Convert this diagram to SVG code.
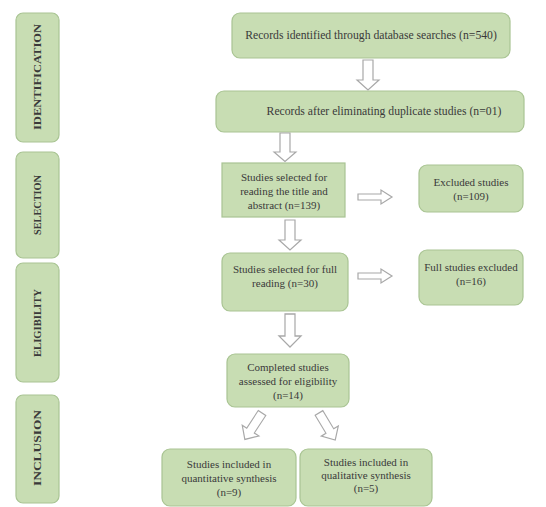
<svg xmlns="http://www.w3.org/2000/svg" xmlns:xlink="http://www.w3.org/1999/xlink" width="546" height="507" viewBox="0 0 546 507">
<style>
.box{fill:#c8ddb3;stroke:#a9c493;stroke-width:1.2}
.t{font-family:"Liberation Serif","Times New Roman",serif;font-size:11px;fill:#3a3a3a;text-anchor:middle}
.tl{font-size:11.7px}
.side{font-family:"Liberation Serif","Times New Roman",serif;font-size:11px;font-weight:bold;fill:#3a3a3a;text-anchor:middle}
.arr{fill:#ffffff;stroke:#a8a8a8;stroke-width:1.2;stroke-linejoin:miter}
</style>
<defs>
<path id="dArrow" d="M-5,0 H5 V20 H11 L0,30 L-11,20 H-5 Z"/>
<path id="rArrow" d="M0,-3 H23 V-7 L34,0 L23,7 V3 H0 Z"/>
</defs>
<rect width="546" height="507" fill="#ffffff"/>

<g id="stage-identification"><rect class="box" x="16" y="13" width="43" height="129" rx="7"/><text class="side" transform="translate(41,77) rotate(-90)" textLength="106" lengthAdjust="spacingAndGlyphs">IDENTIFICATION</text></g>
<g id="stage-selection"><rect class="box" x="16" y="152" width="43" height="106" rx="7"/><text class="side" transform="translate(41,205) rotate(-90)" textLength="60" lengthAdjust="spacingAndGlyphs">SELECTION</text></g>
<g id="stage-eligibility"><rect class="box" x="16" y="263" width="43" height="119" rx="7"/><text class="side" transform="translate(41,323) rotate(-90)" textLength="68" lengthAdjust="spacingAndGlyphs">ELIGIBILITY</text></g>
<g id="stage-inclusion"><rect class="box" x="16" y="395" width="43" height="108" rx="7"/><text class="side" transform="translate(41,448) rotate(-90)" textLength="76" lengthAdjust="spacingAndGlyphs">INCLUSION</text></g>

<g id="n1"><rect class="box" x="232" y="13" width="278" height="45" rx="8"/><text class="t tl" x="371" y="39">Records identified through database searches (n=540)</text></g>
<g id="n2"><rect class="box" x="216" y="91" width="308" height="41" rx="8"/><text class="t tl" x="384" y="115">Records after eliminating duplicate studies (n=01)</text></g>
<g id="n3"><rect class="box" x="222" y="163" width="123" height="54"/><text class="t" x="284" y="181">Studies selected for</text><text class="t" x="284" y="195">reading the title and</text><text class="t" x="284" y="209">abstract (n=139)</text></g>
<g id="n4"><rect class="box" x="419" y="165" width="104" height="47" rx="8"/><text class="t" x="471" y="186">Excluded studies</text><text class="t" x="471" y="200">(n=109)</text></g>
<g id="n5"><rect class="box" x="222" y="253" width="126" height="58" rx="8"/><text class="t" x="285" y="273">Studies selected for full</text><text class="t" x="285" y="287">reading (n=30)</text></g>
<g id="n6"><rect class="box" x="419" y="250" width="104" height="55" rx="8"/><text class="t" x="471" y="271">Full studies excluded</text><text class="t" x="471" y="285">(n=16)</text></g>
<g id="n7"><rect class="box" x="227" y="354" width="122" height="53" rx="8"/><text class="t" x="288" y="371">Completed studies</text><text class="t" x="288" y="385">assessed for eligibility</text><text class="t" x="288" y="399">(n=14)</text></g>
<g id="n8"><rect class="box" x="162" y="449" width="134" height="57" rx="8"/><text class="t" x="229" y="468">Studies included in</text><text class="t" x="229" y="482">quantitative synthesis</text><text class="t" x="229" y="496">(n=9)</text></g>
<g id="n9"><rect class="box" x="300" y="449" width="132" height="57" rx="8"/><text class="t" x="366" y="466">Studies included in</text><text class="t" x="366" y="479">qualitative synthesis</text><text class="t" x="366" y="492">(n=5)</text></g>

<g id="connectors">
<use class="arr" xlink:href="#dArrow" transform="translate(368,60)"/>
<use class="arr" xlink:href="#dArrow" transform="translate(285,133) scale(1,0.95)"/>
<use class="arr" xlink:href="#dArrow" transform="translate(290,220)"/>
<use class="arr" xlink:href="#dArrow" transform="translate(290,314) scale(1,1.1)"/>
<use class="arr" xlink:href="#rArrow" transform="translate(358,197)"/>
<use class="arr" xlink:href="#rArrow" transform="translate(358,276)"/>
<use class="arr" xlink:href="#dArrow" transform="translate(262,413) rotate(33) scale(0.9,1.05)"/>
<use class="arr" xlink:href="#dArrow" transform="translate(319,413) rotate(-31) scale(0.9,1.05)"/>
</g>
</svg>
